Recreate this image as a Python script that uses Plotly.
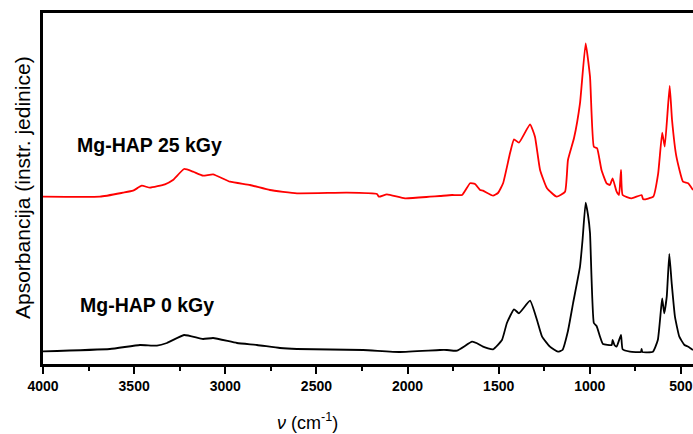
import plotly.graph_objects as go

# Mg-HAP 0 kGy (black)
nu_0kgy = [4000, 3633, 3468, 3375, 3320, 3226, 3122, 3067, 2936, 2826, 2700, 2607,
           2244, 2041, 1822, 1784, 1729, 1646, 1619, 1586, 1531, 1482, 1455, 1416,
           1389, 1328, 1290, 1262, 1219, 1175, 1150, 1120, 1092, 1054, 1040, 1023,
           1010, 999, 978, 963, 944, 928, 880, 875, 865, 853, 829, 820, 780, 720,
           716, 712, 654, 627, 610, 603, 592, 578, 564, 551, 533, 509, 481, 460, 434]
abs_0kgy = [0.127, 0.15, 0.19, 0.183, 0.21, 0.29, 0.25, 0.26, 0.21, 0.19, 0.16, 0.15,
            0.14, 0.12, 0.14, 0.14, 0.133, 0.223, 0.207, 0.173, 0.147, 0.24, 0.41, 0.547,
            0.507, 0.633, 0.44, 0.273, 0.173, 0.123, 0.14, 0.33, 0.607, 0.973, 1.24, 1.613,
            1.49, 1.31, 0.41, 0.38, 0.273, 0.2, 0.19, 0.24, 0.19, 0.173, 0.29, 0.147, 0.123, 0.12,
            0.15, 0.12, 0.123, 0.24, 0.54, 0.657, 0.507, 0.673, 1.10, 0.81, 0.473, 0.273, 0.19, 0.173, 0.14]

# Mg-HAP 25 kGy (red)
nu_25kgy = [4000, 3687, 3561, 3506, 3458, 3413, 3331, 3287, 3226, 3177, 3122, 3067,
            2974, 2864, 2755, 2607, 2333, 2168, 2157, 2113, 2014, 1877, 1822, 1756,
            1701, 1657, 1630, 1602, 1586, 1531, 1504, 1476, 1438, 1416, 1389, 1328,
            1301, 1273, 1235, 1182, 1136, 1120, 1087, 1054, 1023, 999, 978, 960, 936,
            908, 890, 875, 853, 840, 829, 820, 771, 716, 707, 652, 625, 603, 589, 562,
            549, 525, 489, 461, 434]
abs_25kgy = [1.673, 1.673, 1.713, 1.733, 1.783, 1.763, 1.797, 1.84, 1.95, 1.923, 1.883, 1.897,
             1.823, 1.79, 1.74, 1.707, 1.713, 1.70, 1.673, 1.697, 1.657, 1.673, 1.68, 1.69,
             1.69, 1.807, 1.80, 1.74, 1.733, 1.683, 1.71, 1.807, 2.107, 2.247, 2.213, 2.397,
             2.273, 1.94, 1.757, 1.673, 1.723, 2.04, 2.257, 2.607, 3.207, 2.873, 2.173, 2.157, 1.94,
             1.807, 1.79, 1.857, 1.723, 1.69, 1.94, 1.69, 1.657, 1.69, 1.647, 1.673, 1.907, 2.313, 2.173, 2.78,
             2.44, 2.073, 1.823, 1.807, 1.74]

FONT = "Arial, Liberation Sans, sans-serif"
W, H = 693, 434
L, R, T, B = 43, 0, 13, 70


def px_to_paper(px, py):
    return (px - L) / (W - L - R), (H - B - py) / (H - T - B)


fig = go.Figure()
fig.add_trace(go.Scatter(x=nu_0kgy, y=abs_0kgy, mode="lines",
                         line=dict(color="black", width=1.8, shape="spline", smoothing=0.4)))
fig.add_trace(go.Scatter(x=nu_25kgy, y=abs_25kgy, mode="lines",
                         line=dict(color="#ff0000", width=1.8, shape="spline", smoothing=0.4)))

# text labels, placed by pixel position in the original figure
labels = [
    (75, 145, "<b>Mg-HAP 25 kGy</b>", "left", 0, 19.5),
    (78, 305, "<b>Mg-HAP 0 kGy</b>", "left", 0, 19.5),
    (307, 421, "<i>ν</i> (cm<sup>-1</sup>)", "center", 0, 18),
    (22, 188, "Apsorbancija (instr. jedinice)", "center", -90, 21),
]
for px, py, text, anchor, angle, size in labels:
    x, y = px_to_paper(px, py)
    fig.add_annotation(x=x, y=y, xref="paper", yref="paper", text=text,
                       showarrow=False, xanchor=anchor, yanchor="middle",
                       textangle=angle, font=dict(size=size, family=FONT, color="black"))

fig.update_layout(
    width=W, height=H,
    margin=dict(l=L, r=R, t=T, b=B),
    paper_bgcolor="white", plot_bgcolor="white",
    showlegend=False,
    font=dict(family=FONT, color="black", size=16),
    xaxis=dict(
        range=[4000, 434], showgrid=False, zeroline=False, automargin=False,
        showline=True, linecolor="black", linewidth=2.5, mirror=True,
        ticks="outside", ticklen=7, tickwidth=2, tickcolor="black",
        tickvals=[4000, 3500, 3000, 2500, 2000, 1500, 1000, 500],
        tickfont=dict(size=14, family=FONT, weight="bold"),
        minor=dict(tickvals=[3750, 3250, 2750, 2250, 1750, 1250, 750],
                   ticks="outside", ticklen=4, tickwidth=2, tickcolor="black"),
    ),
    yaxis=dict(
        range=[0, 3.51], showgrid=False, zeroline=False, automargin=False,
        showline=True, linecolor="black", linewidth=2.5,
        showticklabels=False, ticks="",
    ),
)

fig.write_html("out.html", config={"displayModeBar": False},
               post_script="document.body.style.margin = '0';")
